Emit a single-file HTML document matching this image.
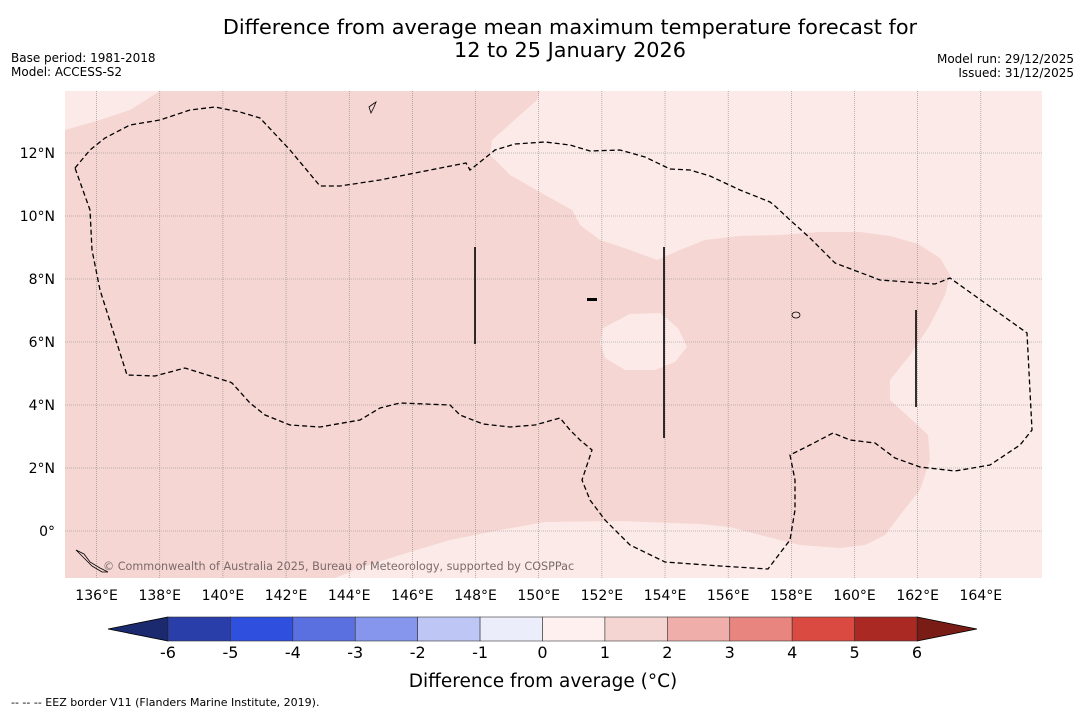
<!DOCTYPE html>
<html><head><meta charset="utf-8"><style>
body{margin:0;background:#fff;font-family:"Liberation Sans","DejaVu Sans",sans-serif;}
svg text{font-family:"DejaVu Sans","Liberation Sans",sans-serif;}
</style></head><body>
<svg id="chart" width="1085" height="713" xmlns="http://www.w3.org/2000/svg">
<rect width="1085" height="713" fill="#fff"/>
<text x="570" y="34" font-size="20.8" text-anchor="middle" fill="#000">Difference from average mean maximum temperature forecast for</text>
<text x="570" y="57" font-size="20.8" text-anchor="middle" fill="#000">12 to 25 January 2026</text>
<text x="11" y="62" font-size="12">Base period: 1981-2018</text>
<text x="11" y="76" font-size="12">Model: ACCESS-S2</text>
<text x="1074" y="63" font-size="12" text-anchor="end">Model run: 29/12/2025</text>
<text x="1074" y="77" font-size="12" text-anchor="end">Issued: 31/12/2025</text>
<defs><clipPath id="mapclip"><rect x="65" y="91" width="977" height="487"/></clipPath></defs>
<g id="map" clip-path="url(#mapclip)">
<rect x="65" y="91" width="977" height="487" fill="#f5d6d3"/>
<polygon fill="#fbeae8" points="540,91 537,100 492,140 490,155 510,175 545,195 572,210 580,225 600,240 630,250 657,260 680,250 705,240 740,236 780,235 820,232 860,232 890,236 918,244 940,258 950,275 945,295 930,325 910,355 890,380 890,400 912,420 928,435 930,460 920,490 900,515 885,535 865,545 840,548 800,545 760,535 730,527 700,524 620,521 545,522 500,530 450,540 400,555 360,568 330,580 1045,580 1045,91"/>
<polygon fill="#fbeae8" points="65,130 100,120 130,110 160,91 65,91"/>
<polygon fill="#fbeae8" points="603,328 630,314 660,313 678,328 687,347 675,362 655,370 625,370 605,358 600,343"/>
<g id="grid"></g>
<polyline fill="none" stroke="#000" stroke-width="1.3" stroke-dasharray="5,3" points="75,168 90,150 105,138 130,125 160,120 190,110 215,107 240,112 260,118 290,150 320,186 340,186 380,180 420,172 466,163 470,170 480,162 495,150 515,144 545,142 570,145 590,151 620,150 645,157 670,169 690,170 710,176 740,190 770,202 775,206 790,220 810,238 835,263 880,280 935,284 950,278 1027,333 1032,430 1020,445 990,465 955,471 920,467 895,458 875,443 850,440 833,433 810,445 790,455 795,480 795,510 790,540 768,569 720,566 665,562 630,545 605,520 590,500 582,480 592,450 580,440 570,430 560,418 535,425 510,427 483,424 460,415 450,405 400,403 380,408 360,420 320,427 290,425 265,415 250,403 232,383 230,382 185,368 155,376 127,375 100,290 92,250 90,210 75,168"/>
<line x1="475" y1="247" x2="475" y2="344" stroke="#000" stroke-width="1.6"/>
<line x1="664" y1="247" x2="664" y2="438" stroke="#000" stroke-width="1.6"/>
<line x1="916" y1="310" x2="916" y2="407" stroke="#000" stroke-width="1.6"/>
<path d="M369,107 l4,-3 3,-2 -2,5 -3,6z" fill="none" stroke="#000" stroke-width="0.8"/>
<path d="M76,550 l8,4 6,8 10,6 8,4 -6,0 -10,-6 -8,-8z" fill="none" stroke="#000" stroke-width="0.8"/>
<ellipse cx="796" cy="315" rx="4" ry="3" fill="none" stroke="#000" stroke-width="0.8"/>
<rect x="587" y="298" width="10" height="3" fill="#000"/>
<text x="103" y="570" font-size="11.2" fill="#7a6a6a">© Commonwealth of Australia 2025, Bureau of Meteorology, supported by COSPPac</text>
</g>
<g id="axes"></g>
<g id="cbar"></g>
<text x="543" y="687" font-size="18.5" text-anchor="middle">Difference from average (°C)</text>
<text x="11" y="706" font-size="11">--  --  -- EEZ border V11 (Flanders Marine Institute, 2019).</text>
</svg>
<script>
const lonTicks=[136,138,140,142,144,146,148,150,152,154,156,158,160,162,164];
const latTicks=[12,10,8,6,4,2,0];
const latLabels=["12°N","10°N","8°N","6°N","4°N","2°N","0°"];
const cbarLevels=[-6,-5,-4,-3,-2,-1,0,1,2,3,4,5,6];
const cbarColors=["#2a3eaa","#2f4fde","#5a70e0","#8596ec","#bdc6f5","#ebedfb","#fdf0ef","#f5d5d2","#efaea9","#e8857e","#da4a40","#aa2a23"];
const cbarUnder="#1b2a6e", cbarOver="#7a1c16";
const NS="http://www.w3.org/2000/svg";
const xLon=l=>65+(l-135)*31.58;
const yLat=v=>531-v*31.5;
function mk(tag,attrs,parent){const e=document.createElementNS(NS,tag);for(const k in attrs)e.setAttribute(k,attrs[k]);parent.appendChild(e);return e;}
const grid=document.getElementById('grid'), axes=document.getElementById('axes');
lonTicks.forEach(l=>{
  const ln=mk('line',{x1:xLon(l),x2:xLon(l),y1:91,y2:578,stroke:'#888','stroke-width':0.6,'stroke-dasharray':'1,1'},grid);
  
  
  const t=mk('text',{x:xLon(l),y:600,'font-size':14,'text-anchor':'middle'},axes);t.textContent=l+'°E';
  
  
});
latTicks.forEach((v,i)=>{
  const ln=mk('line',{x1:65,x2:1042,y1:yLat(v),y2:yLat(v),stroke:'#888','stroke-width':0.6,'stroke-dasharray':'1,1'},grid);
  
  
  const t=mk('text',{x:55,y:yLat(v)+5,'font-size':14,'text-anchor':'end'},axes);t.textContent=latLabels[i];
  
  
});
const cb=document.getElementById('cbar');
const cx0=168,cx1=917,cy0=617,cy1=641;
const cv=v=>cx0+(v-cbarLevels[0])/(cbarLevels[cbarLevels.length-1]-cbarLevels[0])*(cx1-cx0);
const under=mk('polygon',{points:`${cx0},${cy0} ${cx0},${cy1} 108,629`,fill:cbarUnder,stroke:'#000','stroke-width':0.8},cb);


const over=mk('polygon',{points:`${cx1},${cy0} ${cx1},${cy1} 977,629`,fill:cbarOver,stroke:'#000','stroke-width':0.8},cb);


cbarColors.forEach((c,i)=>{
  const r=mk('rect',{x:cv(cbarLevels[i]),y:cy0,width:cv(cbarLevels[i+1])-cv(cbarLevels[i]),height:cy1-cy0,fill:c,stroke:'#333','stroke-width':0.6},cb);
  
  
});
cbarLevels.forEach(v=>{
  const t=mk('text',{x:cv(v),y:658,'font-size':16,'text-anchor':'middle'},cb);t.textContent=v;
  
  
});
</script>
</body></html>
